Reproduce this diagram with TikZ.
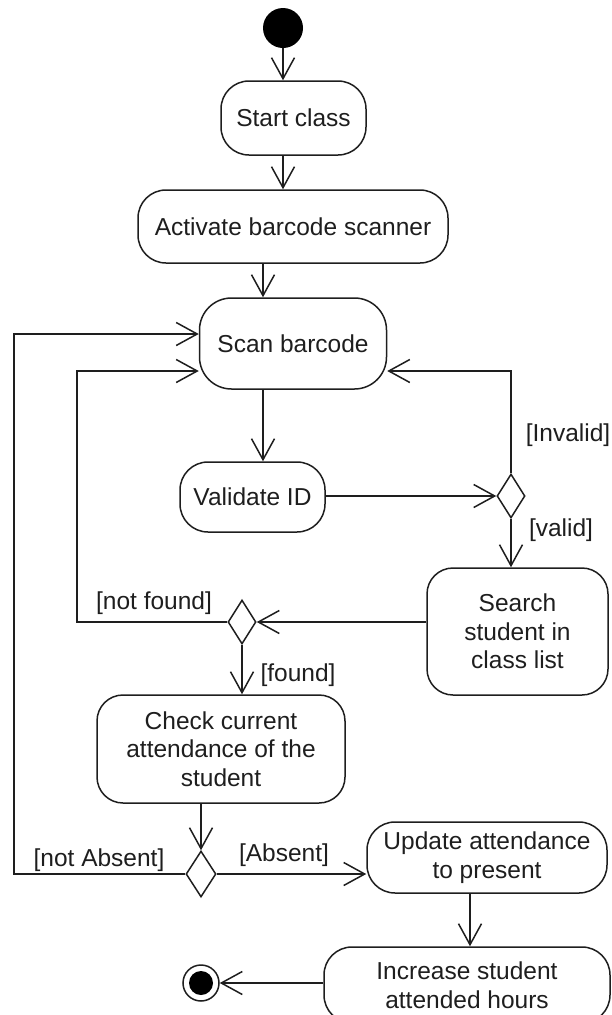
\documentclass[tikz,border=0pt]{standalone}
\usepackage{fontspec}
\setmainfont{Liberation Sans}
\usetikzlibrary{arrows.meta,shapes.geometric}
\definecolor{ink}{RGB}{30,30,30}
\begin{document}
\begin{tikzpicture}[x=1pt,y=-1pt,
  every node/.style={font=\fontsize{24.5}{28.5}\selectfont, text=ink},
  action/.style={draw=ink, line width=1.5pt, rounded corners=28pt, align=center, inner sep=0pt},
  choice/.style={draw=ink, line width=1.5pt, diamond, inner sep=0pt, minimum width=28pt, minimum height=44pt},
  flow/.style={draw=ink, line width=1.5pt, -{Straight Barb[length=21pt,width=23pt]}},
  guard/.style={inner sep=0pt}]
\useasboundingbox (0,0) rectangle (611,1015);
\clip (0,0) rectangle (611,1015);

% initial and final states
\node[circle, fill=black, minimum size=40pt, inner sep=0pt] (start) at (283,28) {};
\node[circle, draw=ink, line width=1.5pt, minimum size=36pt, inner sep=0pt] (end) at (201,983) {};
\fill[black] (end.center) circle (12pt);

% actions
\node[action, minimum width=145pt, minimum height=74pt] (startclass) at (293.5,118) {Start class};
\node[action, minimum width=310pt, minimum height=73pt] (activate) at (293,226.5) {Activate barcode scanner};
\node[action, minimum width=187pt, minimum height=91pt, rounded corners=32pt] (scan) at (293,343.5) {Scan barcode};
\node[action, minimum width=145pt, minimum height=70pt] (validate) at (252.5,497) {Validate ID};
\node[action, minimum width=181pt, minimum height=127pt, rounded corners=26pt] (search) at (517.5,631.5) {Search\\student in\\class list};
\node[action, minimum width=248pt, minimum height=108pt, rounded corners=26pt] (check) at (221,749) {Check current\\attendance of the\\student};
\node[action, minimum width=240pt, minimum height=71pt] (update) at (487,857.5) {Update attendance\\to present};
\node[action, minimum width=286pt, minimum height=76pt] (increase) at (467,985) {Increase student\\attended hours};

% decisions
\node[choice] (d1) at (511,496) {};
\node[choice] (d2) at (242,622) {};
\node[choice, minimum width=30pt, minimum height=46pt] (d3) at (201,874) {};

% routing points
\coordinate (colA) at (283,0);
\coordinate (colB) at (263,0);
\coordinate (colC) at (470,0);
\coordinate (loopOuter) at (14,334);
\coordinate (loopInner) at (77,371);

% connectors
\draw[flow] (start) -- (startclass.north -| colA);
\draw[flow] (startclass.south -| colA) -- (activate.north -| colA);
\draw[flow] (activate.south -| colB) -- (scan.north -| colB);
\draw[flow] (scan.south -| colB) -- (validate.north -| colB);
\draw[flow] (validate.east |- d1) -- (d1.west);
\draw[flow] (d1.north) |- (scan.east |- loopInner);
\draw[flow] (d1.south) -- (search.north -| d1);
\draw[flow] (search.west |- d2) -- (d2.east);
\draw[flow] (d2.west) -| (loopInner) -- (scan.west |- loopInner);
\draw[flow] (d2.south) -- (check.north -| d2);
\draw[flow] (check.south -| d3) -- (d3.north);
\draw[flow] (d3.east) -- (update.west |- d3);
\draw[flow] (d3.west) -| (loopOuter) -- (scan.west |- loopOuter);
\draw[flow] (update.south -| colC) -- (increase.north -| colC);
\draw[flow] (increase.west |- end) -- (end.east);

% guards
\node[guard] (gInvalid) at (568,435) {[Invalid]};
\node[guard] (gValid) at (561,530) {[valid]};
\node[guard] (gNotFound) at (154,603) {[not found]};
\node[guard] (gFound) at (298,675) {[found]};
\node[guard] (gNotAbsent) at (99,860) {[not Absent]};
\node[guard] (gAbsent) at (284,855) {[Absent]};
\end{tikzpicture}
\end{document}
